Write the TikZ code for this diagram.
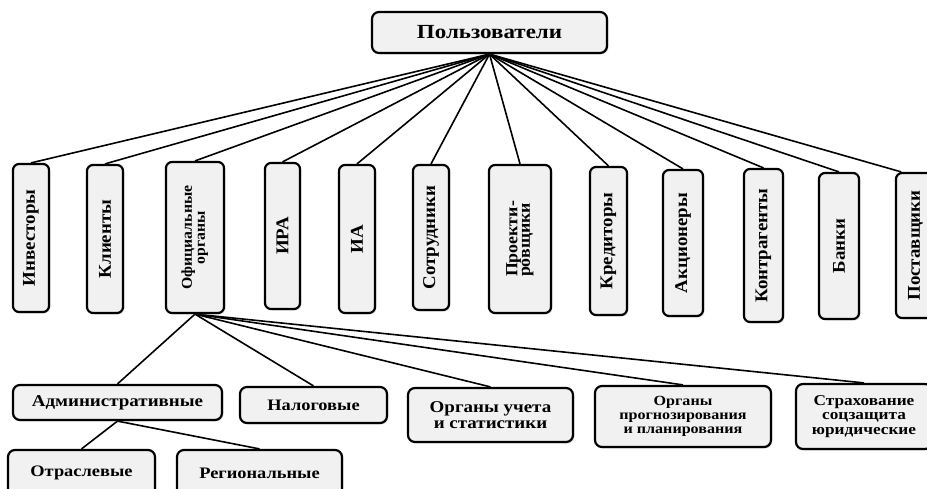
\documentclass[tikz,border=0pt]{standalone}
\usepackage{fontspec}
\setmainfont{Liberation Serif}
\newfontfamily\hwide[FakeStretch=1.15]{Liberation Serif}
\newfontfamily\vwide[FakeStretch=1.05]{Liberation Serif}
\usetikzlibrary{shadows}
\definecolor{boxfill}{HTML}{F1F1F1}
\pgfdeclarelayer{bg}
\pgfsetlayers{bg,main}
\newcommand{\fsz}[2]{\fontsize{#1}{#2}\selectfont}
\newcommand{\vt}[1]{\rotatebox{90}{#1}}
\tikzset{
  box/.style={draw=black, line width=2.2pt, fill=boxfill, rounded corners=7pt, inner sep=0pt,
    drop shadow={opacity=0.2, shadow xshift=1.5pt, shadow yshift=-1.5pt}},
  vbox/.style={box, rounded corners=6pt, font=\vwide\bfseries\fsz{18}{18}},
  hbox/.style={box, align=center},
  link/.style={line width=1.6pt, black},
}
\begin{document}
\begin{tikzpicture}[x=1pt,y=-1pt]
\useasboundingbox (0,0) rectangle (927,488);
\node[box, minimum width=235pt, minimum height=41pt, font=\hwide\bfseries\fsz{20}{20}] (users) at (489.5,32.5) {Пользователи};

\node[vbox, minimum width=36pt, minimum height=148pt] (inv) at (31,238) {\vt{Инвесторы}};
\node[vbox, minimum width=36pt, minimum height=148pt] (kli) at (105,239) {\vt{Клиенты}};
\node[vbox, minimum width=58pt, minimum height=151pt, font=\vwide\bfseries\fsz{15}{13}] (off) at (195,237.5) {\vt{\begin{tabular}{@{}c@{}}Официальные\\органы\end{tabular}}};
\node[vbox, minimum width=35pt, minimum height=146pt] (ira) at (282.5,236) {\vt{ИРА}};
\node[vbox, minimum width=36pt, minimum height=148pt] (ia) at (357,239) {\vt{ИА}};
\node[vbox, minimum width=36pt, minimum height=145pt] (sot) at (431,237.5) {\vt{Сотрудники}};
\node[vbox, minimum width=62pt, minimum height=148pt, font=\vwide\bfseries\fsz{17}{12.5}] (pro) at (520,239) {\vt{\begin{tabular}{@{}l@{}}Проекти-\\ровщики\end{tabular}}};
\node[vbox, minimum width=37pt, minimum height=148pt] (kre) at (608.5,241) {\vt{Кредиторы}};
\node[vbox, minimum width=40pt, minimum height=146pt] (akc) at (683,243) {\vt{Акционеры}};
\node[vbox, minimum width=39pt, minimum height=153pt] (kon) at (763.5,245.5) {\vt{Контрагенты}};
\node[vbox, minimum width=40pt, minimum height=146pt] (ban) at (839,246) {\vt{Банки}};
\node[vbox, minimum width=39pt, minimum height=145pt] (pos) at (915.5,245.5) {\vt{Поставщики}};

\node[hbox, minimum width=209pt, minimum height=35pt, font=\hwide\bfseries\fsz{16.5}{16.5}] (adm) at (117.5,402.5) {Административные};
\node[hbox, minimum width=147pt, minimum height=36pt, font=\hwide\bfseries\fsz{16}{16}] (nal) at (313.5,405) {Налоговые};
\node[hbox, minimum width=165pt, minimum height=54pt, font=\hwide\bfseries\fsz{16.5}{16.5}] (uch) at (490.5,415) {Органы учета\\и статистики};
\node[hbox, minimum width=176pt, minimum height=61pt, font=\hwide\bfseries\fsz{14}{14}] (prog) at (683,416.5) {Органы\\прогнозирования\\и планирования};
\node[hbox, minimum width=136pt, minimum height=65pt, font=\hwide\bfseries\fsz{15}{14.5}] (str) at (864,416.5) {Страхование\\соцзащита\\юридические};
\node[hbox, minimum width=147pt, minimum height=46pt, font=\hwide\bfseries\fsz{16}{16}] (otr) at (81.5,473) {Отраслевые};
\node[hbox, minimum width=165pt, minimum height=46pt, font=\hwide\bfseries\fsz{16}{16}] (reg) at (259.5,473) {Региональные};

\begin{pgfonlayer}{bg}
\foreach \n in {inv,kli,off,ira,ia,sot,pro,kre,akc,kon,ban}
  \draw[link] (users.south) -- (\n.north);
\draw[link] (users.south) -- (pos.101);
\foreach \n in {adm,nal,uch,prog,str}
  \draw[link] (off.south) -- (\n.north);
\draw[link] (adm.south) -- (otr.north);
\draw[link] (adm.south) -- (reg.north);
\end{pgfonlayer}
\end{tikzpicture}
\end{document}
